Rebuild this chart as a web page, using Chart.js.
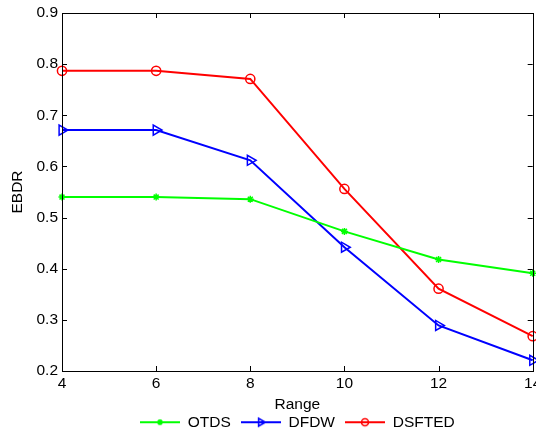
<!DOCTYPE html>
<html>
<head>
<meta charset="utf-8">
<script src="https://cdn.jsdelivr.net/npm/chart.js@4"></script>
<style>
  html, body { margin: 0; padding: 0; background: #fff; overflow: hidden; }
  #wrap { width: 536px; height: 434px; overflow: hidden; }
</style>
</head>
<body>
<div id="wrap"><canvas id="c" width="540" height="434"></canvas></div>
<script>
// Range vs EBDR
const ranges = [4, 6, 8, 10, 12, 14];
const otds   = [0.540, 0.540, 0.536, 0.473, 0.418, 0.391];
const dfdw   = [0.671, 0.671, 0.612, 0.442, 0.289, 0.221];
const dsfted = [0.787, 0.787, 0.771, 0.556, 0.361, 0.268];
const yTicks = [0.2, 0.3, 0.4, 0.5, 0.6, 0.7, 0.8, 0.9];

const FONT = { family: "'Liberation Sans', Arial, sans-serif", size: 15.5 };

// legend icon: short line with the marker in the middle
function legendIcon(color, style, radius, rot, filled) {
  const cv = document.createElement('canvas');
  cv.width = 40; cv.height = 14;
  const g = cv.getContext('2d');
  g.strokeStyle = color; g.lineWidth = 2;
  g.beginPath(); g.moveTo(0, 7); g.lineTo(40, 7); g.stroke();
  g.fillStyle = filled ? color : 'rgba(0,0,0,0)';
  g.lineWidth = 1.5;
  Chart.helpers.drawPoint(g, { pointStyle: style, radius: radius, rotation: rot || 0, borderWidth: 1.5 }, 20, 7);
  return cv;
}

// MATLAB style box with inward ticks on all sides
const boxTicks = {
  id: 'boxTicks',
  afterDatasetsDraw(chart) {
    const { ctx, chartArea: a, scales: { x, y } } = chart;
    ctx.save();
    ctx.strokeStyle = '#000'; ctx.lineWidth = 1;
    ctx.beginPath();
    ranges.forEach(v => {
      const px = Math.round(x.getPixelForValue(v)) + 0.5;
      ctx.moveTo(px, a.bottom); ctx.lineTo(px, a.bottom - 5);
      ctx.moveTo(px, a.top); ctx.lineTo(px, a.top + 5);
    });
    yTicks.forEach(v => {
      const py = Math.round(y.getPixelForValue(v)) + 0.5;
      ctx.moveTo(a.left, py); ctx.lineTo(a.left + 5, py);
      ctx.moveTo(a.right, py); ctx.lineTo(a.right - 5, py);
    });
    ctx.stroke();
    ctx.strokeRect(Math.round(a.left) + 0.5, Math.round(a.top) + 0.5, Math.round(a.right - a.left), Math.round(a.bottom - a.top));
    ctx.restore();
  }
};

const series = [
  { label: 'OTDS',   data: otds,   color: '#00ff00', style: 'star',     r: 3.5, lr: 3,   rot: 0 },
  { label: 'DFDW',   data: dfdw,   color: '#0000ff', style: 'triangle', r: 5.8, lr: 4.5, rot: 90 },
  { label: 'DSFTED', data: dsfted, color: '#ff0000', style: 'circle',   r: 4.6, lr: 3.5, rot: 0 }
];
const icons = series.map(s => legendIcon(s.color, s.style, s.lr, s.rot, s.style === 'star'));

new Chart(document.getElementById('c'), {
  type: 'line',
  data: {
    datasets: series.map(s => ({
      label: s.label,
      data: s.data.map((v, i) => ({ x: ranges[i], y: v })),
      borderColor: s.color,
      backgroundColor: s.color,
      borderWidth: 2,
      pointStyle: s.style,
      pointRotation: s.rot,
      pointRadius: s.r,
      pointBorderWidth: 1.5,
      pointBorderColor: s.color,
      pointBackgroundColor: s.style === 'star' ? s.color : 'rgba(0,0,0,0)',
      tension: 0, fill: false, clip: false
    }))
  },
  options: {
    responsive: false, animation: false,
    layout: { padding: { top: 13, right: 0, bottom: -6, left: 0 } },
    plugins: {
      tooltip: { enabled: false },
      legend: {
        position: 'bottom', fullSize: false,
        labels: {
          usePointStyle: true, pointStyleWidth: 40, padding: 10,
          color: '#000', font: FONT,
          generateLabels: chart => series.map((s, i) => ({
            text: s.label, pointStyle: icons[i], datasetIndex: i,
            fontColor: '#000', lineWidth: 0, strokeStyle: 'rgba(0,0,0,0)', fillStyle: 'rgba(0,0,0,0)'
          }))
        }
      }
    },
    scales: {
      x: {
        type: 'linear', min: 4, max: 14,
        grid: { display: false, drawTicks: false },
        border: { display: false },
        ticks: { stepSize: 2, padding: 3, color: '#000', font: FONT },
        title: { display: true, text: 'Range', color: '#000', font: FONT, padding: { top: 0, bottom: -10 } },
        afterFit: s => { s.height = 33.5; s.paddingLeft = 0; s.paddingRight = 0; }
      },
      y: {
        min: 0.2, max: 0.9,
        grid: { display: false, drawTicks: false },
        border: { display: false },
        ticks: { stepSize: 0.1, padding: 4, color: '#000', font: FONT, callback: v => v.toFixed(1) },
        title: { display: true, text: 'EBDR', color: '#000', font: FONT, padding: { top: 8, bottom: 0 } },
        afterFit: s => { s.width = 62; s.paddingTop = 0; s.paddingBottom = 0; }
      }
    }
  },
  plugins: [boxTicks]
});
</script>
</body>
</html>
